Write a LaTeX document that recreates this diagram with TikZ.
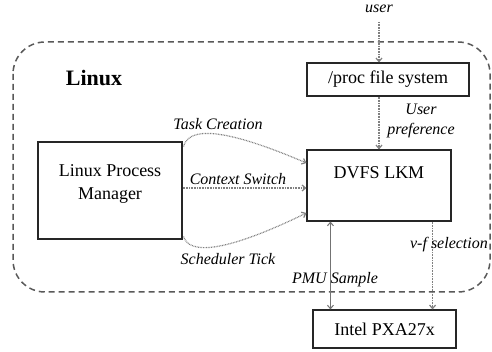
\documentclass[tikz,border=0pt]{standalone}
\usepackage{fontspec}
\setmainfont{Liberation Serif}
\usetikzlibrary{arrows.meta,calc}
\begin{document}
\begin{tikzpicture}[x=1pt,y=-1pt,
  box/.style={draw=black!85, line width=1.1pt, inner sep=0pt},
  txt/.style={font=\fontsize{18}{23}\selectfont, inner sep=0pt, align=center},
  lab/.style={font=\fontsize{16}{20}\selectfont\itshape, inner sep=0pt, align=center},
  dotarrow/.style={draw=black!50, line width=1.2pt, dash pattern=on 0.8pt off 0.8pt, -{Straight Barb[length=3.5pt,width=6pt]}},
  solidarrow/.style={draw=black!55, line width=1pt, {Straight Barb[length=3.5pt,width=6pt]}-{Straight Barb[length=3.5pt,width=6pt]}},
  region/.style={draw=black!65, line width=1.5pt, dash pattern=on 6pt off 4pt, rounded corners=32pt}
]
\useasboundingbox (0,0) rectangle (492,352);
\fill[white] (0,0) rectangle (492,352);

% Linux region
\draw[region] (13,42) rectangle (490,292);
\node[font=\fontsize{22}{26}\selectfont\bfseries, inner sep=0pt] (linux) at (94,78) {Linux};

% boxes
\node[box, txt, minimum width=162pt, minimum height=33pt] (proc) at (388,79.5) {/proc file system};
\node[box, minimum width=144pt, minimum height=71pt] (dvfs) at (379,185.5) {};
\node[txt] (dvfstext) at (379,173) {DVFS LKM};
\node[box, minimum width=144pt, minimum height=97pt] (lpm) at (110,190.5) {};
\node[txt] (lpmtext) at (110,184) {Linux Process\\Manager};
\node[box, txt, minimum width=143pt, minimum height=38pt] (intel) at (384.5,329) {Intel PXA27x};

% user input
\node[lab] (user) at (379,9) {user};
\coordinate (userin) at (379,22);
\draw[dotarrow] (userin) -- (userin |- proc.north);

% proc -> dvfs
\draw[dotarrow] (proc.south -| dvfs.north) -- (dvfs.north);
\node[lab] (pref) at (421,121) {User\\preference};

% process manager -> dvfs
\draw[dotarrow] ($(lpm.north east)+(1,5)$) .. controls (189,127) and (222,127) .. ($(dvfs.west)+(0,-22.5)$);
\draw[dotarrow] ($(lpm.east)+(0,-2.5)$) -- ($(dvfs.west)+(0,2.5)$);
\draw[dotarrow] ($(lpm.south east)+(1,-3)$) .. controls (189,254) and (222,254) .. ($(dvfs.west)+(0,27.5)$);
\node[lab] (task) at (218,124) {Task Creation};
\node[lab] (ctx) at (238,179) {Context Switch};
\node[lab] (sched) at (228,259) {Scheduler Tick};

% dvfs <-> intel
\draw[solidarrow] ($(dvfs.south west)+(24,0)$) -- ($(intel.north west)+(18,0)$);
\node[lab] (pmu) at (335,280) {PMU Sample};
\draw[dotarrow] ($(dvfs.south east)+(-19,0)$) -- ($(intel.north east)+(-24,0)$);
\node[lab] (vf) at (449,245) {v-f selection};
\end{tikzpicture}
\end{document}
